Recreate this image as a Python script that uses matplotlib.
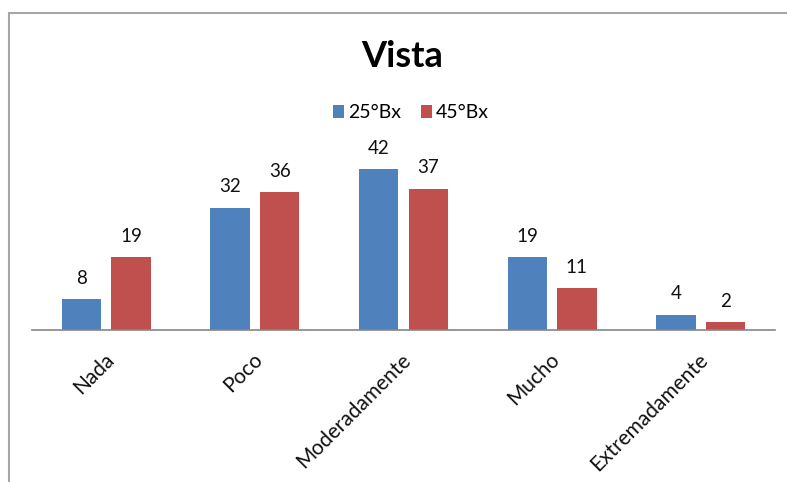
import numpy as np
import matplotlib
matplotlib.use("Agg")
import matplotlib.pyplot as plt
from matplotlib.patches import Rectangle

plt.rcParams["font.family"] = ["Lato", "DejaVu Sans"]

categories = ["Nada", "Poco", "Moderadamente", "Mucho", "Extremadamente"]
series_names = ["25°Bx", "45°Bx"]
values_25 = [8, 32, 42, 19, 4]
values_45 = [19, 36, 37, 11, 2]

blue = "#4F81BD"
red = "#C0504D"

W, H = 787, 482
fig = plt.figure(figsize=(W / 100, H / 100), dpi=100)

# outer chart border: only its left and top edges fall inside the image
top = 1 - 13 / H
fig.add_artist(Rectangle((9 / W, -0.2), 1.2, top + 0.2,
                         transform=fig.transFigure, fill=False,
                         edgecolor="#A6A6A6", linewidth=1.5))

ax = fig.add_axes([32 / W, 152 / H, 743 / W, 172 / H])

x = np.arange(len(categories))
width = 0.265
offset = 0.167
b1 = ax.bar(x - offset, values_25, width, color=blue, label=series_names[0])
b2 = ax.bar(x + offset, values_45, width, color=red, label=series_names[1])

for bars, vals in [(b1, values_25), (b2, values_45)]:
    for rect, v in zip(bars, vals):
        ax.annotate(str(v), (rect.get_x() + rect.get_width() / 2, v),
                    xytext=(0, 11), textcoords="offset points",
                    ha="center", va="baseline", fontsize=13.5, color="#111111")

ax.set_xlim(-0.5, len(categories) - 0.5)
ax.set_ylim(0, 45)
ax.set_yticks([])
ax.set_xticks([])
for side in ["top", "right", "left"]:
    ax.spines[side].set_visible(False)
ax.spines["bottom"].set_color("#868686")
ax.spines["bottom"].set_linewidth(1.2)

# rotated category names, ending just under each group
for i, name in enumerate(categories):
    ax.annotate(name, (i, 0), xycoords="data",
                xytext=(-2, -14), textcoords="offset points",
                rotation=45, rotation_mode="anchor",
                ha="right", va="top", fontsize=15, color="#111111")

fig.text(402.5 / W, 1 - 66.7 / H, "Vista", ha="center", va="baseline",
         fontsize=26, fontweight="bold", color="black")

fig.legend(handles=[b1, b2], labels=series_names, loc="center",
           bbox_to_anchor=(411 / W, 1 - 113 / H), ncol=2, frameon=False,
           fontsize=14, handlelength=0.6, handleheight=0.6,
           handletextpad=0.2, columnspacing=1.0, borderpad=0)

fig.savefig("out.png", dpi=100)
